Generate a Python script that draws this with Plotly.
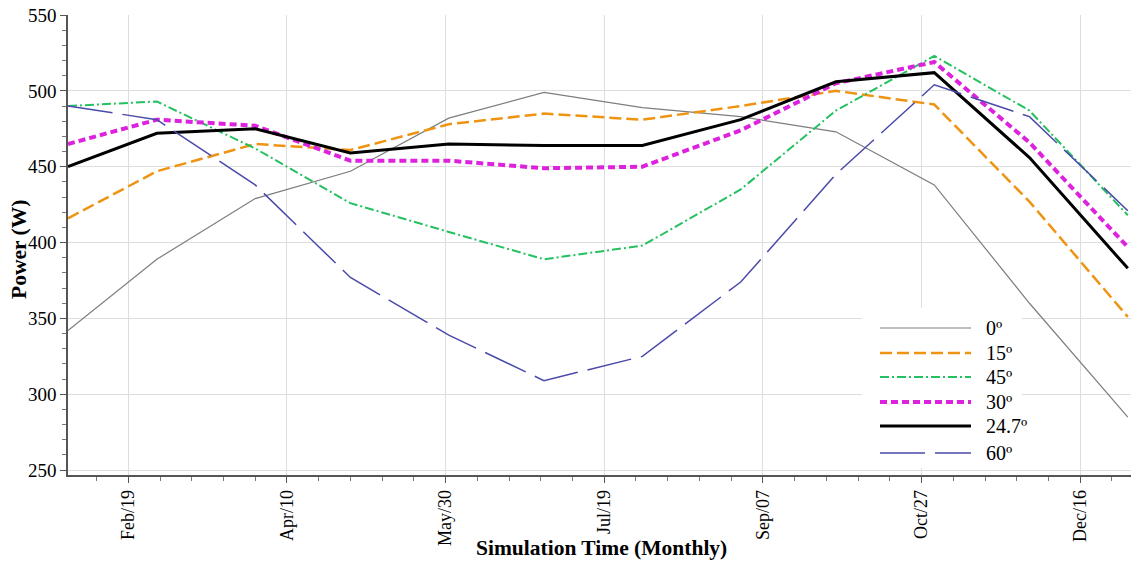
import plotly.graph_objects as go

# ---- data ----
months = ["2021-01-31", "2021-02-28", "2021-03-31", "2021-04-30", "2021-05-31", "2021-06-30",
          "2021-07-31", "2021-08-31", "2021-09-30", "2021-10-31", "2021-11-30", "2021-12-31"]

p0 = [342, 389, 429, 447, 482, 499, 489, 483, 473, 438, 360, 285]
p15 = [416, 447, 465, 461, 478, 485, 481, 490, 500, 491, 427, 351]
p45 = [490, 493, 462, 426, 407, 389, 398, 435, 487, 523, 487, 418]
p30 = [465, 481, 477, 454, 454, 449, 450, 474, 505, 519, 466, 397]
p247 = [450, 472, 475, 459, 465, 464, 464, 481, 506, 512, 456, 383]
p60 = [490, 481, 438, 377, 339, 309, 325, 374, 445, 504, 483, 421]

series_names = ["0º", "15º", "45º", "30º", "24.7º", "60º"]
series_values = [p0, p15, p45, p30, p247, p60]

tick_dates = ["2021-02-19", "2021-04-10", "2021-05-30", "2021-07-19", "2021-09-07", "2021-10-27", "2021-12-16"]
tick_text = ["Feb/19", "Apr/10", "May/30", "Jul/19", "Sep/07", "Oct/27", "Dec/16"]

# ---- styles ----
styles = [
    dict(color="#7d7d7d", width=1.2, dash="solid"),
    dict(color="#EE9412", width=2.5, dash="12px,5px"),
    dict(color="#25C060", width=2, dash="9px,3px,2px,3px"),
    dict(color="#DD22DD", width=4, dash="7px,4px"),
    dict(color="#000000", width=3, dash="solid"),
    dict(color="#4A4AAA", width=1.5, dash="45px,10px"),
]

FONT = "Liberation Serif, Times New Roman, serif"
W, H = 1131, 562
ML, MR, MT, MB = 68, 0, 15, 87
PW = W - ML - MR
PH = H - MT - MB

fig = go.Figure()
for name, vals, st in zip(series_names, series_values, styles):
    fig.add_trace(go.Scatter(x=months, y=vals, mode="lines", name=name, line=st,
                             showlegend=False))

def px_x(px):
    return (px - ML) / PW

def px_y(py):
    return (H - MB - py) / PH

# custom legend (long line samples like the reference)
shapes = [dict(type="rect", xref="paper", yref="paper",
               x0=px_x(862), x1=px_x(1022), y0=px_y(468), y1=px_y(308),
               fillcolor="white", line=dict(width=0), layer="above")]
annotations = []
rows = [328, 353, 377, 402, 426, 453]
for name, st, ry in zip(series_names, styles, rows):
    shapes.append(dict(type="line", xref="paper", yref="paper",
                       x0=px_x(880), x1=px_x(971), y0=px_y(ry), y1=px_y(ry),
                       line=st, layer="above"))
    annotations.append(dict(xref="paper", yref="paper", x=px_x(984), y=px_y(ry),
                            text=name, showarrow=False, xanchor="left", yanchor="middle",
                            font=dict(family=FONT, size=20, color="black")))

annotations.append(dict(xref="paper", yref="paper", x=px_x(601), y=px_y(548),
                        text="Simulation Time (Monthly)", showarrow=False,
                        xanchor="center", yanchor="middle",
                        font=dict(family=FONT, size=21.5, color="black", weight="bold")))
annotations.append(dict(xref="paper", yref="paper", x=px_x(19), y=px_y(250),
                        text="Power (W)", showarrow=False, textangle=-90,
                        xanchor="center", yanchor="middle",
                        font=dict(family=FONT, size=21.5, color="black", weight="bold")))

fig.update_layout(
    width=W, height=H,
    margin=dict(l=ML, r=MR, t=MT, b=MB, autoexpand=False),
    plot_bgcolor="white", paper_bgcolor="white",
    font=dict(family=FONT, color="black"),
    shapes=shapes, annotations=annotations,
    showlegend=False,
)
fig.update_xaxes(
    type="date", range=["2021-01-31", "2022-01-01"],
    tickmode="array", tickvals=tick_dates, ticktext=tick_text,
    tickangle=-90, tickfont=dict(family=FONT, size=18, color="black"),
    showgrid=True, gridcolor="#dedede", gridwidth=1,
    showline=True, linecolor="#555555", linewidth=1.5,
    ticks="outside", ticklen=6, tickcolor="#555555",
    minor=dict(tick0="2021-02-19", dtick=864000000, ticks="outside", ticklen=4,
               tickcolor="#777777", showgrid=False),
    zeroline=False,
)
fig.update_yaxes(
    range=[246.8, 550], tickmode="linear", tick0=250, dtick=50,
    tickfont=dict(family=FONT, size=19, color="black"),
    showgrid=True, gridcolor="#dedede", gridwidth=1,
    showline=True, linecolor="#555555", linewidth=1.5,
    ticks="outside", ticklen=6, tickcolor="#555555",
    minor=dict(dtick=10, ticks="outside", ticklen=4, tickcolor="#777777", showgrid=False),
    zeroline=False,
)

fig.write_html("out.html",
               config={"displayModeBar": False},
               post_script="document.body.style.margin='0';document.body.style.overflow='hidden';"
                           "document.documentElement.style.overflow='hidden';")
